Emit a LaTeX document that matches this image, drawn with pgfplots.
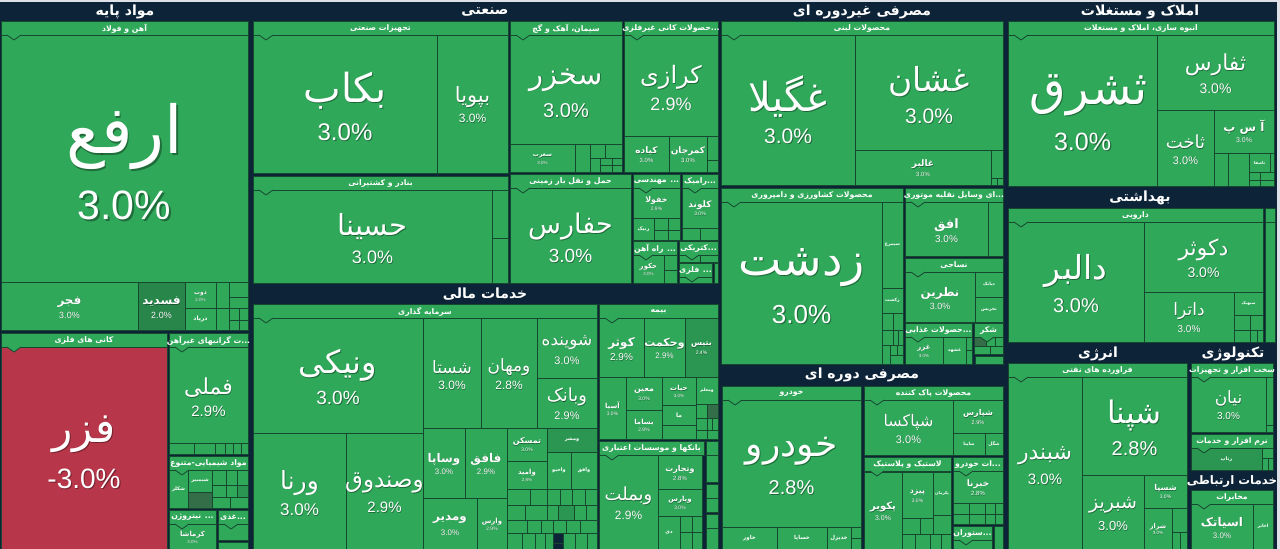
\documentclass[border=0pt]{standalone}
\usepackage{fontspec}
\usepackage{pgfplots}
\pgfplotsset{compat=1.18}
\TeXXeTstate=1
\newfontfamily\fa[Script=Arabic]{DejaVu Sans}
\newfontfamily\la{Liberation Sans}
\definecolor{navy}{RGB}{12,35,56}
\definecolor{gr}{RGB}{48,168,90}
\definecolor{grd}{RGB}{40,134,74}
\definecolor{grm}{RGB}{43,150,82}
\definecolor{grx}{RGB}{52,110,72}
\definecolor{rd}{RGB}{184,54,74}
\definecolor{bd}{RGB}{22,72,48}
\definecolor{topc}{RGB}{222,226,232}
\tikzset{lbl/.style={text=white,inner sep=0pt,outer sep=0pt},
 shd/.style={text=black,text opacity=0.35,inner sep=0pt,outer sep=0pt}}
\newcommand{\hfont}{\fontsize{5.8pt}{5.8pt}\selectfont\fa\bfseries}
\newcommand{\Bx}[5][gr]{\addplot[fill=#1,draw=bd,line width=0.6pt] coordinates {(#2,#3) (#4,#3) (#4,#5) (#2,#5)} --cycle;}
\newcommand{\Stk}[9][gr]{%
 \Bx[#1]{#2}{#3}{#4}{#5}%
 \pgfmathsetmacro\xc{(#2+#4)/2}%
 \pgfmathsetmacro\yc{(#3+#5)/2}%
 \pgfmathsetmacro\yn{\yc-0.33*#7}%
 \pgfmathsetmacro\yp{\yc+0.40*#7+0.5*#9}%
 \pgfmathsetmacro\fn{0.75*#7}%
 \pgfmathsetmacro\fp{0.75*#9}%
 \pgfmathsetmacro\sh{max(0.25,0.02*#7)}%
 \ifdim #7pt<16pt \def\wt{\noexpand\bfseries}\else\def\wt{}\fi
 \edef\tmp{%
 \noexpand\node[shd,xshift=\sh pt,yshift=-\sh pt] at (axis cs:\xc,\yn) {\noexpand\fontsize{\fn pt}{\fn pt}\noexpand\selectfont\noexpand\fa\wt\noexpand\beginR\unexpanded{#6}\noexpand\endR};
 \noexpand\node[lbl] at (axis cs:\xc,\yn) {\noexpand\fontsize{\fn pt}{\fn pt}\noexpand\selectfont\noexpand\fa\wt\noexpand\beginR\unexpanded{#6}\noexpand\endR};
 \noexpand\node[shd,xshift=\sh pt,yshift=-\sh pt] at (axis cs:\xc,\yp) {\noexpand\fontsize{\fp pt}{\fp pt}\noexpand\selectfont\noexpand\la\unexpanded{#8}};
 \noexpand\node[lbl] at (axis cs:\xc,\yp) {\noexpand\fontsize{\fp pt}{\fp pt}\noexpand\selectfont\noexpand\la\unexpanded{#8}};}%
 \tmp}
\newcommand{\Tn}[7][gr]{%
 \Bx[#1]{#2}{#3}{#4}{#5}%
 \pgfmathsetmacro\xc{(#2+#4)/2}%
 \pgfmathsetmacro\yc{(#3+#5)/2}%
 \pgfmathsetmacro\fn{0.75*#7}%
 \edef\tmp{\noexpand\node[lbl] at (axis cs:\xc,\yc) {\noexpand\fontsize{\fn pt}{\fn pt}\noexpand\selectfont\noexpand\fa\noexpand\bfseries\noexpand\beginR\unexpanded{#6}\noexpand\endR};}%
 \tmp}
\newcommand{\Hd}[4]{%
 \pgfmathsetmacro\ya{#2+14}\pgfmathsetmacro\xc{(#1+#3)/2}\pgfmathsetmacro\yc{#2+7.5}%
 \pgfmathsetmacro\na{#1+6}\pgfmathsetmacro\nb{#1+13}\pgfmathsetmacro\nc{#1+20}\pgfmathsetmacro\nd{#2+19}%
 \edef\tmp{\noexpand\addplot[fill=gr,draw=bd,line width=0.6pt] coordinates {(#1,#2) (#3,#2) (#3,\ya) (#1,\ya)} --cycle;
 \noexpand\addplot[fill=gr,draw=bd,line width=0.6pt] coordinates {(\na,\ya) (\nb,\nd) (\nc,\ya)};
 \noexpand\node[lbl] at (axis cs:\xc,\yc) {\noexpand\hfont\noexpand\beginR\unexpanded{#4}\noexpand\endR};}%
 \tmp}
\newcommand{\Sc}[4][10.5pt]{\node[lbl] at (axis cs:#2,#3) {\fontsize{#1}{#1}\selectfont\fa\bfseries\beginR #4\endR};}
\begin{document}
\begin{tikzpicture}
\begin{axis}[width=960pt,height=411.75pt,scale only axis,xmin=0,xmax=1280,ymin=0,ymax=549,
 y dir=reverse,hide axis,clip=false]
\addplot[fill=navy,draw=none] coordinates {(0,0) (1280,0) (1280,549) (0,549)} --cycle;
\addplot[fill=topc,draw=none] coordinates {(0,0) (1280,0) (1280,2.5) (0,2.5)} --cycle;
\addplot[fill=topc,draw=none] coordinates {(1277,0) (1280,0) (1280,549) (1277,549)} --cycle;
% ---------- مواد پایه
\Stk{1}{35}{248}{282}{ارفع}{66}{3.0\%}{41}
\Stk{1}{282}{138}{330}{فجر}{12}{3.0\%}{9}
\Stk[grd]{138}{282}{185}{330}{فسدید}{12}{2.0\%}{9}
\Stk{185}{282}{216}{308}{ذوب}{6}{2.0\%}{4.5}
\Tn{185}{308}{216}{330}{درپاد}{6}
\Bx{216}{282}{229}{308}\Bx{229}{282}{248}{297}\Bx{229}{297}{248}{308}
\Bx{216}{308}{229}{330}\Bx{229}{308}{239}{320}\Bx{239}{308}{248}{320}
\Bx{229}{320}{239}{330}\Bx{239}{320}{248}{330}
\Hd{1}{21}{248}{آهن و فولاد}
\Stk[rd]{1}{347}{167}{549}{فزر}{42}{-3.0\%}{28}
\Hd{1}{333}{167}{کانی های فلزی}
\Stk{169}{347}{248}{443}{فملی}{22}{2.9\%}{15}
\Bx{169}{443}{194}{454}\Bx{194}{443}{215}{454}\Bx{215}{443}{225}{454}
\Bx{225}{443}{233}{454}\Bx{233}{443}{241}{454}\Bx{241}{443}{248}{454}
\Hd{169}{333}{248}{...ت گرانبهای غیرآهن}
\Tn{169}{470}{188}{508}{شکلر}{5}
\Tn{188}{470}{212}{492}{شیمبیر}{5}
\Bx[grx]{188}{492}{212}{508}
\Bx{212}{470}{226}{485}\Bx{226}{470}{237}{485}\Bx{237}{470}{248}{485}
\Bx{212}{485}{226}{497}\Bx{226}{485}{237}{497}\Bx[grm]{237}{485}{248}{497}
\Bx{212}{497}{230}{508}\Bx{230}{497}{248}{508}
\Hd{169}{456}{248}{مواد شیمیایی-متنوع}
\Stk{169}{524}{216}{549}{کرماشا}{7}{3.0\%}{4.5}
\Hd{169}{510}{216}{... نیتروژن}
\Bx{218}{524}{248}{540}
\Hd{218}{510}{248}{...غذی}
\Bx{218}{542}{248}{549}
\Sc{125}{12}{مواد پایه}
% ---------- صنعتی
\Stk{253}{35}{437}{173}{بکاب}{40}{3.0\%}{24}
\Stk{437}{35}{508}{173}{بپویا}{21}{3.0\%}{12}
\Hd{253}{21}{508}{تجهیزات صنعتی}
\Stk{253}{190}{492}{283}{حسینا}{29}{3.0\%}{18}
\Bx{492}{190}{508}{238}\Bx{492}{238}{508}{283}
\Hd{253}{176}{508}{بنادر و کشتیرانی}
\Stk{510}{35}{622}{144}{سخزر}{29}{3.0\%}{20}
\Stk{510}{144}{575}{172}{سغرب}{6}{3.0\%}{4.5}
\Bx{575}{144}{590}{172}\Bx{590}{144}{605}{158}\Bx{605}{144}{622}{158}\Bx{590}{158}{600}{172}
\Bx{600}{158}{612}{165}\Bx{612}{158}{622}{165}\Bx{600}{165}{612}{172}\Bx{612}{165}{622}{172}
\Hd{510}{21}{622}{سیمان، آهک و گچ}
\Stk{624}{35}{718}{136}{کرازی}{24}{2.9\%}{18}
\Stk{624}{136}{669}{172}{کیاده}{9}{3.0\%}{6}
\Stk{669}{136}{707}{172}{کمرجان}{9}{3.0\%}{6}
\Bx{707}{136}{718}{160}\Bx{707}{160}{718}{172}
\Hd{624}{21}{718}{...حصولات کانی غیرفلزی}
\Stk{510}{188}{631}{283}{حفارس}{27}{3.0\%}{19}
\Hd{510}{174}{631}{حمل و نقل بار زمینی}
\Stk{633}{188}{680}{218}{خفولا}{8}{2.9\%}{5}
\Tn{633}{218}{654}{240}{رنیک}{5}
\Bx{654}{218}{668}{230}\Bx{668}{218}{680}{230}\Bx{654}{230}{668}{240}\Bx{668}{230}{680}{240}
\Hd{633}{174}{680}{... مهندسی}
\Stk{682}{188}{718}{228}{کلوند}{9}{3.0\%}{5}
\Bx{682}{228}{700}{240}\Bx{700}{228}{718}{240}
\Hd{682}{174}{718}{...رامیک}
\Stk{633}{255}{664}{283}{حکور}{7}{3.0\%}{4.5}
\Bx{664}{255}{677}{270}\Bx{664}{270}{677}{283}
\Hd{633}{241}{677}{... راه آهن}
\Bx{679}{255}{700}{262}\Bx{700}{255}{718}{262}
\Hd{679}{241}{718}{...کتریکی}
\Bx{679}{277}{712}{283}
\Hd{679}{263}{712}{... فلزی}
\Bx{714}{263}{718}{283}
\Sc{485}{12}{صنعتی}
% ---------- خدمات مالی
\Stk{253}{318}{423}{433}{ونیکی}{32}{3.0\%}{19}
\Stk{253}{433}{346}{549}{ورنا}{25}{3.0\%}{17}
\Stk{346}{433}{423}{549}{وصندوق}{23}{2.9\%}{15}
\Stk{423}{318}{481}{428}{شستا}{17}{3.0\%}{12}
\Stk{481}{318}{537}{428}{ومهان}{17}{2.8\%}{12}
\Stk{537}{318}{597}{378}{شوینده}{17}{3.0\%}{11}
\Stk{537}{378}{597}{428}{وبانک}{18}{2.9\%}{11}
\Stk{423}{428}{465}{498}{وساپا}{12}{3.0\%}{8}
\Stk{465}{428}{507}{498}{فافق}{12}{2.9\%}{8}
\Stk{423}{498}{477}{549}{ومدیر}{12}{3.0\%}{8}
\Stk{477}{498}{507}{549}{وارس}{7}{2.9\%}{5}
\Stk{507}{428}{547}{461}{تمسکن}{8}{3.0\%}{5}
\Stk{507}{461}{547}{489}{وامید}{7}{2.8\%}{4.5}
\Tn[grm]{547}{428}{597}{452}{ومشر}{5}
\Tn{547}{452}{571}{489}{واحیو}{5}
\Tn{571}{452}{597}{489}{وافق}{5}
\Bx{507}{489}{530}{505}\Bx{530}{489}{547}{505}\Bx{547}{489}{560}{505}\Bx{560}{489}{572}{505}\Bx{572}{489}{585}{505}\Bx{585}{489}{597}{505}
\Bx{507}{505}{525}{520}\Bx{525}{505}{547}{520}\Bx{547}{505}{558}{520}\Bx[grm]{558}{505}{574}{520}\Bx{574}{505}{586}{520}\Bx{586}{505}{597}{520}
\Bx{507}{520}{527}{533}\Bx{527}{520}{541}{533}\Bx{541}{520}{553}{533}\Bx{553}{520}{566}{533}\Bx{566}{520}{580}{533}\Bx{580}{520}{597}{533}
\Bx{507}{533}{522}{549}\Bx{522}{533}{535}{549}\Bx{535}{533}{545}{549}\Bx{545}{533}{553}{549}\Bx[navy]{553}{533}{563}{543}\Bx{563}{533}{575}{549}\Bx{575}{533}{587}{549}\Bx{587}{533}{597}{549}
\Hd{253}{304}{597}{سرمایه گذاری}
\Stk{599}{318}{644}{377}{کوثر}{12}{2.9\%}{10}
\Stk{644}{318}{685}{377}{وحکمت}{11}{2.9\%}{8}
\Stk[grm]{685}{318}{718}{377}{بتیس}{8}{2.4\%}{5}
\Stk{599}{377}{626}{439}{آسیا}{7}{3.0\%}{5}
\Stk{626}{377}{662}{410}{معین}{8}{3.0\%}{5}
\Stk{626}{410}{662}{439}{بساما}{7}{2.9\%}{5}
\Stk{662}{377}{696}{405}{حیات}{7}{3.0\%}{4.5}
\Tn{662}{405}{696}{425}{ما}{6}
\Bx{662}{425}{696}{439}
\Tn{696}{377}{718}{404}{ومعلم}{4.5}
\Bx{696}{404}{707}{418}\Bx[grx]{707}{404}{718}{418}\Bx{696}{418}{707}{430}\Bx{707}{418}{712}{430}\Bx{712}{418}{718}{430}\Bx{696}{430}{707}{439}\Bx{707}{430}{718}{439}
\Hd{599}{304}{718}{بیمه}
\Stk{599}{455}{658}{549}{وبملت}{18}{2.9\%}{12}
\Stk{658}{455}{702}{489}{وتجارت}{8}{2.8\%}{6}
\Stk{658}{489}{702}{516}{وپارس}{7}{3.0\%}{5}
\Tn{658}{516}{680}{549}{دی}{5}
\Bx{680}{516}{692}{532}\Bx{692}{516}{702}{532}\Bx{680}{532}{692}{549}\Bx{692}{532}{702}{549}
\Hd{599}{441}{704}{بانکها و موسسات اعتباری}
\Bx{706}{441}{718}{455}\Bx{706}{455}{718}{482}\Bx{706}{484}{718}{498}\Bx{706}{498}{718}{512}\Bx{706}{514}{718}{528}\Bx{706}{528}{718}{549}
\Sc{485}{294}{خدمات مالی}
% ---------- مصرفی غیردوره ای
\Stk{721}{35}{855}{185}{غگیلا}{40}{3.0\%}{21}
\Stk{855}{35}{1003}{150}{غشان}{33}{3.0\%}{21}
\Stk{855}{150}{991}{185}{غالبر}{9}{3.0\%}{6}
\Bx{991}{150}{1003}{178}\Bx{991}{178}{997}{185}\Bx{997}{178}{1003}{185}
\Hd{721}{21}{1003}{محصولات لبنی}
\Stk{721}{202}{882}{364}{زدشت}{46}{3.0\%}{26}
\Tn{882}{202}{903}{288}{سیمرغ}{4.5}
\Tn{882}{288}{903}{313}{زکشت}{4.5}
\Bx{882}{313}{893}{330}\Bx{893}{313}{903}{330}\Bx{882}{330}{893}{345}\Bx{893}{330}{898}{345}\Bx{898}{330}{903}{345}
\Bx{882}{345}{890}{364}\Bx{890}{345}{897}{355}\Bx{897}{345}{903}{355}\Bx{890}{355}{903}{364}
\Hd{721}{188}{903}{محصولات کشاورزی و دامپروری}
\Stk{905}{202}{988}{256}{افق}{13}{3.0\%}{10}
\Bx{988}{202}{1003}{256}
\Hd{905}{188}{1003}{...ای وسایل نقلیه موتوری}
\Stk{905}{272}{975}{322}{نطرین}{12}{3.0\%}{9}
\Tn{975}{272}{1003}{297}{دیابک}{4.5}
\Tn{975}{297}{1003}{322}{نخریس}{4.5}
\Hd{905}{258}{1003}{نساجی}
\Stk{905}{337}{943}{364}{غزر}{7}{3.0\%}{4.5}
\Tn{943}{337}{966}{364}{غشهد}{4.5}
\Bx{966}{337}{972}{350}\Bx{966}{350}{972}{364}
\Hd{905}{323}{972}{...حصولات غذایی}
\Bx[grx]{974}{337}{986}{346}\Bx{986}{337}{995}{346}\Bx{995}{337}{1003}{346}\Bx{974}{346}{990}{354}\Bx{990}{346}{1003}{354}
\Hd{974}{323}{1003}{شکر}
\Bx{975}{356}{1003}{364}
\Sc{862}{12}{مصرفی غیردوره ای}
% ---------- مصرفی دوره ای
\Stk{722}{400}{861}{527}{خودرو}{36}{2.8\%}{20}
\Tn{722}{527}{777}{549}{خاور}{5.5}
\Tn{777}{527}{827}{549}{خساپا}{5.5}
\Tn{827}{527}{851}{549}{خدیزل}{5.5}
\Bx{851}{527}{861}{538}\Bx{851}{538}{861}{549}
\Hd{722}{386}{861}{خودرو}
\Stk{864}{400}{953}{455}{شپاکسا}{16}{3.0\%}{11}
\Stk{953}{400}{1003}{433}{شپارس}{8}{2.9\%}{5.5}
\Tn{953}{433}{985}{455}{ساینا}{4.5}
\Tn{985}{433}{1003}{455}{شگل}{4.5}
\Hd{864}{386}{1003}{محصولات پاک کننده}
\Stk{864}{472}{902}{549}{پکویر}{10}{3.0\%}{7}
\Stk{902}{472}{933}{518}{پیزد}{8}{3.0\%}{5}
\Tn{933}{472}{951}{515}{پکرمان}{4}
\Bx{902}{518}{920}{534}\Bx{920}{518}{933}{534}\Bx{933}{515}{951}{534}\Bx{902}{534}{915}{549}\Bx{915}{534}{930}{549}\Bx{930}{534}{941}{549}\Bx{941}{534}{951}{549}
\Hd{864}{457}{951}{لاستیک و پلاستیک}
\Stk{953}{471}{1003}{503}{خبرنا}{9}{2.8\%}{6}
\Bx{953}{503}{969}{514}\Bx{969}{503}{985}{514}\Bx{985}{503}{995}{514}\Bx{995}{503}{1003}{514}
\Bx{953}{514}{969}{524}\Bx{969}{514}{985}{524}\Bx{985}{514}{995}{524}\Bx{995}{514}{1003}{524}
\Hd{953}{457}{1003}{...ات خودرو}
\Bx{953}{540}{992}{549}
\Hd{953}{526}{992}{...ستوران}
\Bx{994}{526}{1003}{549}
\Sc{862}{375}{مصرفی دوره ای}
% ---------- املاک و مستغلات
\Stk{1008}{35}{1157}{186}{ثشرق\kern0.25em}{47}{3.0\%}{25}
\Stk{1157}{35}{1274}{110}{ثفارس}{22}{3.0\%}{14}
\Stk{1157}{110}{1214}{186}{ثاخت}{18}{3.0\%}{11}
\Stk{1214}{110}{1274}{153}{آ س پ}{12}{3.0\%}{7}
\Bx{1214}{153}{1228}{186}\Bx{1228}{153}{1249}{186}\Tn{1249}{153}{1270}{172}{ثاصفا}{4}\Bx{1270}{153}{1274}{172}
\Bx{1249}{172}{1260}{180}\Bx{1260}{172}{1274}{180}\Bx{1249}{180}{1260}{186}\Bx{1260}{180}{1274}{186}
\Hd{1008}{21}{1274}{انبوه سازی، املاک و مستغلات}
\Sc{1140}{12}{املاک و مستغلات}
% ---------- بهداشتی
\Stk{1008}{222}{1144}{342}{دالبر}{33}{3.0\%}{20}
\Stk{1144}{222}{1263}{292}{دکوثر}{22}{3.0\%}{14}
\Stk{1144}{292}{1234}{342}{داترا}{17}{3.0\%}{10}
\Tn{1234}{292}{1263}{315}{سبهبک}{4}
\Bx{1234}{315}{1250}{330}\Bx{1250}{315}{1263}{330}\Bx{1234}{330}{1250}{342}\Bx{1250}{330}{1257}{342}\Bx{1257}{330}{1263}{342}
\Hd{1008}{208}{1263}{دارویی}
\Bx{1265}{208}{1275}{222}\Bx{1265}{222}{1275}{342}
\Sc{1140}{198}{بهداشتی}
% ---------- انرژی
\Stk{1008}{377}{1082}{549}{شبندر}{22}{3.0\%}{15}
\Stk{1082}{377}{1187}{475}{شپنا}{31}{2.8\%}{20}
\Stk{1082}{475}{1144}{549}{شبریز}{19}{3.0\%}{13}
\Stk{1144}{475}{1187}{508}{شسپا}{8}{3.0\%}{5}
\Stk{1144}{508}{1172}{549}{شراز}{6.5}{3.0\%}{4.5}
\Bx{1172}{508}{1187}{532}\Bx{1172}{532}{1180}{549}\Bx{1180}{532}{1187}{549}
\Hd{1008}{363}{1187}{فراورده های نفتی}
\Sc{1098}{354}{انرژی}
% ---------- تکنولوژی
\Stk{1191}{377}{1266}{432}{نیان}{17}{3.0\%}{10}
\Bx{1266}{377}{1273}{425}\Bx{1266}{425}{1273}{432}
\Hd{1191}{363}{1273}{سخت افزار و تجهیزات}
\Tn[grm]{1191}{448}{1262}{470}{رتاپ}{5}
\Bx{1262}{448}{1273}{458}\Bx{1262}{458}{1268}{470}\Bx{1268}{458}{1273}{470}
\Hd{1191}{434}{1273}{نرم افزار و خدمات}
\Sc{1233}{354}{تکنولوژی}
% ---------- خدمات ارتباطی
\Stk{1191}{504}{1253}{549}{اسیاتک}{12}{3.0\%}{8}
\Tn{1253}{504}{1273}{549}{اخابر}{4.5}
\Hd{1191}{490}{1273}{مخابرات}
\Sc[8.8pt]{1232}{481}{خدمات ارتباطی}
\end{axis}
\pgfresetboundingbox
\path[use as bounding box] (current axis.south west) rectangle (current axis.north east);
\end{tikzpicture}
\end{document}
